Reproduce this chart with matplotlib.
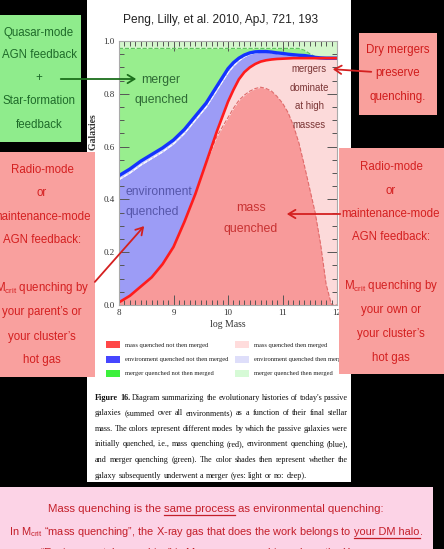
import matplotlib
matplotlib.use("Agg")
from matplotlib import pyplot as plt
from matplotlib.patches import Rectangle, FancyArrowPatch
from matplotlib.ticker import MultipleLocator

plt.rcParams['font.family'] = ['Liberation Serif', 'DejaVu Serif']
plt.rcParams['mathtext.fontset'] = 'custom'
plt.rcParams['mathtext.rm'] = 'Liberation Sans'
plt.rcParams['mathtext.it'] = 'Liberation Sans'
SANS = ['Liberation Sans', 'DejaVu Sans']

# log stellar mass grid and the stacked boundaries
log_mass = [8.0, 8.2, 8.4, 8.6, 8.8, 9.0, 9.2, 9.4, 9.6, 9.8, 10.0, 10.1, 10.2, 10.3,
            10.4, 10.5, 10.6, 10.7, 10.8, 10.9, 11.0, 11.1, 11.2, 11.3, 11.4, 11.5,
            11.6, 11.7, 11.8, 11.9, 12.0]
mass_not_merged = [0.01, 0.035, 0.07, 0.105, 0.155, 0.22, 0.315, 0.42, 0.54, 0.64, 0.71,
                   0.745, 0.775, 0.795, 0.81, 0.82, 0.825, 0.82, 0.81, 0.79, 0.765, 0.73,
                   0.68, 0.615, 0.53, 0.44, 0.35, 0.23, 0.08, 0.0, 0.0]
mass_total = [0.01, 0.035, 0.07, 0.105, 0.155, 0.22, 0.315, 0.42, 0.54, 0.66, 0.77, 0.815,
              0.855, 0.882, 0.90, 0.913, 0.922, 0.927, 0.93, 0.932, 0.933, 0.934, 0.935,
              0.935, 0.935, 0.935, 0.935, 0.935, 0.935, 0.935, 0.935]
env_not_merged = [0.475, 0.50, 0.53, 0.555, 0.58, 0.61, 0.65, 0.70, 0.75, 0.815, 0.88, 0.905,
                  0.925, 0.94, 0.95, 0.955, 0.957, 0.957, 0.955, 0.952, 0.95, 0.947, 0.945,
                  0.943, 0.942, 0.94, 0.937, 0.935, 0.935, 0.935, 0.935]
env_total = [0.49, 0.515, 0.545, 0.57, 0.595, 0.625, 0.665, 0.715, 0.765, 0.83, 0.895, 0.918,
             0.935, 0.947, 0.955, 0.959, 0.96, 0.96, 0.958, 0.955, 0.953, 0.95, 0.948, 0.946,
             0.945, 0.942, 0.938, 0.936, 0.935, 0.935, 0.935]
merger_not_merged = [0.972, 0.972, 0.972, 0.972, 0.972, 0.972, 0.972, 0.972, 0.972, 0.972,
                     0.972, 0.972, 0.972, 0.972, 0.972, 0.972, 0.972, 0.972, 0.972, 0.972,
                     0.972, 0.972, 0.972, 0.972, 0.965, 0.952, 0.94, 0.936, 0.935, 0.935, 0.935]

legend_labels = ['mass quenched not then merged', 'environment quenched not then merged',
                 'merger quenched not then merged', 'mass quenched then merged',
                 'environment quenched then merged', 'merger quenched then merged']
legend_colors = ['#ff4747', '#4646ff', '#3cf03c', '#ffdcdc', '#dedefa', '#d6fad6']

caption = [
    "Figure 16. Diagram summarizing the evolutionary histories of today's passive",
    "galaxies (summed over all environments) as a function of their final stellar",
    "mass. The colors represent different modes by which the passive galaxies were",
    "initially quenched, i.e., mass quenching (red), environment quenching (blue),",
    "and merger quenching (green). The color shades then represent whether the",
    "galaxy subsequently underwent a merger (yes: light or no: deep).",
]

W, H = 444, 549


def fx(px):
    return px / W


def fy(py):
    return 1 - py / H


fig = plt.figure(figsize=(W / 100, H / 100), dpi=100, facecolor='black')
renderer = fig.canvas.get_renderer()

# white paper panel behind the figure
fig.add_artist(Rectangle((fx(87), fy(482)), (351 - 87) / W, 482 / H,
                         transform=fig.transFigure, facecolor='white', edgecolor='none', zorder=-5))

ax = fig.add_axes([fx(119), fy(305), (337 - 119) / W, (305 - 41) / H])
ax.fill_between(log_mass, 0, mass_not_merged, color='#f89a9a', lw=0)
ax.fill_between(log_mass, mass_not_merged, mass_total, color='#fcdada', lw=0)
ax.fill_between(log_mass, mass_total, env_not_merged, color='#9c9cf6', lw=0)
ax.fill_between(log_mass, env_not_merged, env_total, color='#cfcff8', lw=0)
ax.fill_between(log_mass, env_total, merger_not_merged, color='#98ee8e', lw=0)
ax.fill_between(log_mass, merger_not_merged, 1, color='#d4f6cc', lw=0)
ax.plot(log_mass, mass_not_merged, color='#e06a6a', lw=0.8, ls='--')
ax.plot(log_mass, merger_not_merged, color='#5cc25c', lw=0.8, ls='--')
ax.plot(log_mass, env_not_merged, color='white', lw=0.8, ls='--')
ax.plot(log_mass, env_total, color='#1434ff', lw=2.4)
ax.plot(log_mass, mass_total, color='#ff1c1c', lw=1.9)

ax.set_xlim(8, 12)
ax.set_ylim(0, 1)
ax.xaxis.set_minor_locator(MultipleLocator(0.1))
ax.yaxis.set_minor_locator(MultipleLocator(0.05))
ax.set_yticks([0, 0.2, 0.4, 0.6, 0.8, 1.0])
ax.set_yticklabels(['0.0', '0.2', '0.4', '0.6', '0.8', '1.0'])
ax.set_xticks([8, 9, 10, 11, 12])
ax.set_xticklabels(['8', '9', '10', '11', '12'])
ax.tick_params(which='both', direction='in', top=True, right=True, colors='#555555',
               labelcolor='#333333', labelsize=6.5, width=0.7, pad=3)
ax.tick_params(which='major', length=7)
ax.tick_params(which='minor', length=3.5)
for s in ax.spines.values():
    s.set_color('#aaaaaa')
    s.set_linewidth(0.8)
ax.set_xlabel('log Mass', fontsize=7, color='#333333', labelpad=2)
ax.set_ylabel('Fraction of Passive Galaxies', fontsize=7, fontweight='bold',
              color='#333333', labelpad=4)

fig.text(fx(221), fy(20), 'Peng, Lilly, et al. 2010, ApJ, 721, 193', family=SANS,
         fontsize=8.6, ha='center', va='center', color='#222222')

# labels inside the plot
fig.text(fx(161), fy(90), 'merger\nquenched', family=SANS, fontsize=8.8, ha='center',
         va='center', color='#2e6a35', linespacing=1.9, zorder=3)
fig.text(fx(309), fy(97), 'mergers\ndominate\nat high\nmasses', family=SANS, fontsize=6.9,
         ha='center', va='center', color='#7a3434', linespacing=2.05, zorder=3)
fig.text(fx(125), fy(202), 'environment\nquenched', family=SANS, fontsize=8.7,
         ha='left', va='center', color='#5656aa', linespacing=1.95, zorder=3)
fig.text(fx(251), fy(218), 'mass\nquenched', family=SANS, fontsize=8.9,
         ha='center', va='center', color='#c83232', linespacing=2.0, zorder=3)

# legend
for i, (lab, col) in enumerate(zip(legend_labels, legend_colors)):
    px = 106 if i < 3 else 235
    py = [345, 360, 374][i % 3]
    fig.add_artist(Rectangle((fx(px), fy(py + 3)), 14 / W, 7 / H, transform=fig.transFigure,
                             facecolor=col, edgecolor='none', zorder=2))
    fig.text(fx(px + 19), fy(py), lab, fontsize=4.7, ha='left', va='center',
             color='#222222', zorder=2)

# caption, justified
cap_y = [398, 413, 429, 444, 460, 476]
cap_size = 5.9
probe_a = fig.text(0, 0, 'a a', fontsize=cap_size)
probe_b = fig.text(0, 0, 'aa', fontsize=cap_size)
cap_space = probe_a.get_window_extent(renderer).width - probe_b.get_window_extent(renderer).width
probe_a.remove()
probe_b.remove()
for k, line in enumerate(caption):
    words = line.split()
    texts = []
    for j, w in enumerate(words):
        bold = k == 0 and j < 2
        texts.append(fig.text(0, fy(cap_y[k]), w, fontsize=cap_size, va='center', ha='left',
                              color='#111111', fontweight='bold' if bold else 'normal'))
    widths = [t.get_window_extent(renderer).width for t in texts]
    if k < len(caption) - 1:
        gap = max((348 - 95 - sum(widths)) / (len(words) - 1), cap_space * 0.6)
    else:
        gap = cap_space
    x = 95
    for t, w in zip(texts, widths):
        t.set_x(fx(x))
        x += w + gap


def box(x0, y0, x1, y1, color):
    fig.add_artist(Rectangle((fx(x0), fy(y1)), (x1 - x0) / W, (y1 - y0) / H,
                             transform=fig.transFigure, facecolor=color, edgecolor='none',
                             zorder=5))


def box_lines(lines, cx, ys, color, size=8.3):
    for s, y in zip(lines, ys):
        fig.text(fx(cx), fy(y), s, family=SANS, fontsize=size, ha='center', va='center',
                 color=color, zorder=6)


def arrow(p0, p1, color):
    fig.add_artist(FancyArrowPatch((fx(p0[0]), fy(p0[1])), (fx(p1[0]), fy(p1[1])),
                                   transform=fig.transFigure,
                                   arrowstyle='->,head_length=0.5,head_width=0.3',
                                   mutation_scale=10, color=color, lw=1.3, zorder=7))


box(0, 15, 81, 142, '#8fec8c')
box_lines(['Quasar-mode', 'AGN feedback', '+', 'Star-formation', 'feedback'], 39,
          [33, 55, 78, 101, 125], '#1f6b2a')
box(359, 33, 437, 115, '#f9a09c')
box_lines(['Dry mergers', 'preserve', 'quenching.'], 398, [50, 73, 97], '#d01c1c')
box(0, 152, 95, 377, '#f9a09e')
box_lines(['Radio-mode', 'or', 'maintenance-mode', 'AGN feedback:',
           'M$_{\\mathrm{crit}}$ quenching by', 'your parent\u2019s or', 'your cluster\u2019s',
           'hot gas'], 42, [170, 193, 217, 240, 288, 312, 337, 360], '#d42020')
box(339, 148, 444, 374, '#f9a09e')
box_lines(['Radio-mode', 'or', 'maintenance-mode', 'AGN feedback:',
           'M$_{\\mathrm{crit}}$ quenching by', 'your own or', 'your cluster\u2019s',
           'hot gas'], 391, [167, 191, 214, 237, 286, 310, 334, 358], '#d42020')

arrow((58, 79), (139, 79), '#1b6e1b')
arrow((374, 72), (330, 69), '#d42020')
arrow((343, 214), (284, 214), '#d42020')
arrow((93, 284), (146, 224), '#d42020')

# bottom statement box
box(0, 487, 433, 560, '#fcd3e6')


def segment_line(segments, cx, y, color, size):
    texts = []
    for s, _ in segments:
        texts.append(fig.text(0, fy(y), s, family=SANS, fontsize=size, ha='left',
                              va='baseline', color=color, zorder=6))
    pa = fig.text(0, 0, 'a a', family=SANS, fontsize=size)
    pb = fig.text(0, 0, 'aa', family=SANS, fontsize=size)
    space = pa.get_window_extent(renderer).width - pb.get_window_extent(renderer).width
    pa.remove()
    pb.remove()
    widths = [t.get_window_extent(renderer).width for t in texts]
    gaps = [0 if s == '.' else space for s, _ in segments]
    total = sum(widths) + sum(gaps[1:])
    x = cx - total / 2
    for i, (t, w) in enumerate(zip(texts, widths)):
        if i > 0:
            x += gaps[i]
        t.set_x(fx(x))
        if segments[i][1]:
            fig.add_artist(plt.Line2D([fx(x), fx(x + w)], [fy(y + 2.5), fy(y + 2.5)],
                                      transform=fig.transFigure, color=color, lw=0.9, zorder=6))
        x += w


segment_line([('Mass quenching is the', False), ('same process', True),
              ('as environmental quenching:', False)], 216, 512, '#c41f2a', 8.2)
segment_line([('In M$_{\\mathrm{crit}}$ \u201cmass quenching\u201d, the X-ray gas that does the work belongs to', False),
              ('your DM halo', True), ('.', False)], 216, 535, '#c41f2a', 7.9)
segment_line([('\u201cEnvironmental quenching\u201d is M$_{\\mathrm{crit}}$ mass quenching where the X-ray gas', False)],
             216, 555.5, '#c41f2a', 7.9)

fig.savefig('out.png', dpi=100, facecolor='black')
